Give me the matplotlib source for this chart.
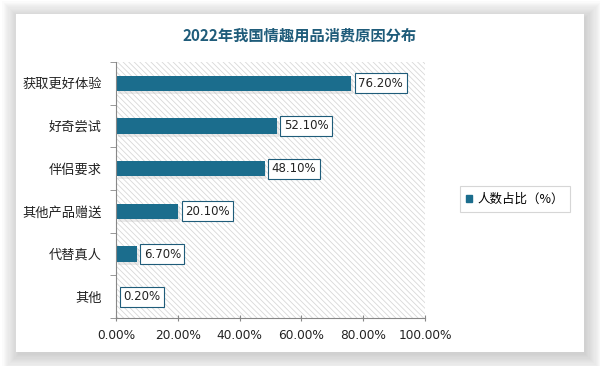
import numpy as np
import matplotlib
matplotlib.use('Agg')
import matplotlib.pyplot as plt
from matplotlib.patches import Rectangle

plt.rcParams['font.family'] = ['Noto Sans CJK SC', 'DejaVu Sans']
plt.rcParams['hatch.color'] = '#d8d8d8'
plt.rcParams['hatch.linewidth'] = 0.6

categories = ['获取更好体验', '好奇尝试', '伴侣要求', '其他产品赠送', '代替真人', '其他']
values = [76.2, 52.1, 48.1, 20.1, 6.7, 0.2]
xticks = [0, 20, 40, 60, 80, 100]
title = '2022年我国情趣用品消费原因分布'
series_name = '人数占比（%）'

bar_color = '#1b6d8d'
edge_color = '#1f5c7a'

fig = plt.figure(figsize=(6, 3.66), dpi=100)
fig.patch.set_facecolor('white')

# card shadow, soft gradient
for i in range(14):
    pad = i * 1.2
    fig.patches.append(Rectangle(((16 - pad + 2) / 600, (14 - pad - 3) / 366),
                                 (568 + 2 * pad) / 600, (338 + 2 * pad) / 366,
                                 transform=fig.transFigure, facecolor='#707070',
                                 alpha=0.022, edgecolor='none', zorder=0))
fig.patches.append(Rectangle((16 / 600, 14 / 366), 568 / 600, 338 / 366,
                             transform=fig.transFigure, facecolor='white',
                             edgecolor='none', zorder=1))

ax = fig.add_axes([116 / 600, 1 - 318 / 366, 309 / 600, 256 / 366])
ax.set_facecolor('none')
ax.set_zorder(2)

n = len(categories)
y = np.arange(n)
ax.add_patch(Rectangle((0, -0.5), 100, n, hatch='\\\\\\\\\\\\', facecolor='none',
                       edgecolor='#d8d8d8', linewidth=0, zorder=0))

# faint bar shadow
ax.barh(y + 0.07, values, height=0.36, left=0.6, color='#bbbbbb', alpha=0.3, zorder=1)
ax.barh(y, values, height=0.36, color=bar_color, zorder=2, label=series_name)

for yi, v in zip(y, values):
    ax.annotate('%.2f%%' % v, (v, yi), xytext=(5, 0), textcoords='offset points',
                va='center', ha='left', fontsize=8.5, color='#222222',
                family='DejaVu Sans',
                bbox=dict(boxstyle='square,pad=0.3', facecolor='white',
                          edgecolor=edge_color, linewidth=0.8), zorder=3)

ax.set_xlim(0, 100)
ax.set_ylim(n - 0.5, -0.5)
ax.set_xticks(xticks)
ax.set_xticklabels(['%.2f%%' % t for t in xticks], fontsize=8.7, color='#222222',
                   family='DejaVu Sans')
ax.set_yticks(y)
ax.set_yticklabels(categories, fontsize=9.5, color='#222222')
ax.set_yticks(np.arange(-0.5, n, 1), minor=True)
ax.tick_params(axis='y', which='major', length=0, pad=10)
ax.tick_params(axis='y', which='minor', length=4, color='#888888', direction='out')
ax.tick_params(axis='x', length=4, color='#888888', direction='inout', pad=6)

for s in ['top', 'right']:
    ax.spines[s].set_visible(False)
for s in ['left', 'bottom']:
    ax.spines[s].set_color('#888888')
    ax.spines[s].set_linewidth(0.8)

fig.text(300 / 600, 1 - 36 / 366, title, ha='center', va='center', fontsize=11,
         fontweight='bold', color=edge_color, zorder=3)

leg = fig.legend(handles=[plt.Rectangle((0, 0), 1, 1, color=bar_color)],
                 labels=[series_name], loc='center', bbox_to_anchor=(515 / 600, 1 - 199 / 366),
                 fontsize=9, frameon=True, fancybox=False, handlelength=0.5,
                 handleheight=0.5, handletextpad=0.4, borderpad=0.5)
leg.get_frame().set_edgecolor('#cccccc')
leg.get_frame().set_linewidth(0.8)
leg.set_zorder(3)

fig.savefig('out.png', dpi=100)
